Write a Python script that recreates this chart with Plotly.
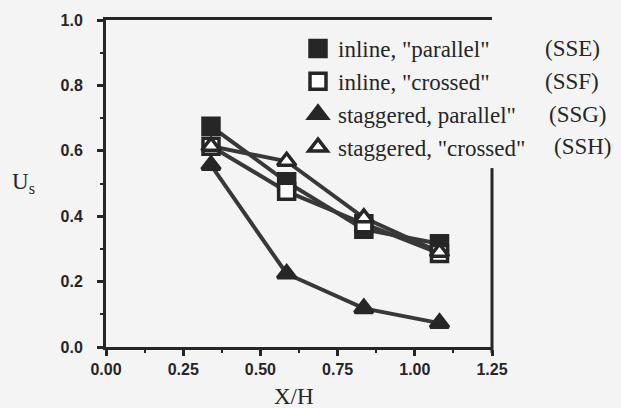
import plotly.graph_objects as go

# ---- data ----
x_over_h = [0.34, 0.585, 0.835, 1.08]
us_sse = [0.675, 0.505, 0.36, 0.316]   # inline, "parallel"
us_ssf = [0.614, 0.476, 0.377, 0.286]  # inline, "crossed"
us_ssg = [0.556, 0.224, 0.118, 0.073]  # staggered, parallel"
us_ssh = [0.614, 0.568, 0.395, 0.29]   # staggered, "crossed"

series_names = ['inline, "parallel"', 'inline, "crossed"',
                'staggered, parallel"', 'staggered, "crossed"']
series_codes = ["(SSE)", "(SSF)", "(SSG)", "(SSH)"]

x_tick_vals = [0.0, 0.25, 0.5, 0.75, 1.0, 1.25]
x_tick_text = ["0.00", "0.25", "0.50", "0.75", "1.00", "1.25"]
y_tick_vals = [0.0, 0.2, 0.4, 0.6, 0.8, 1.0]
y_tick_text = ["0.0", "0.2", "0.4", "0.6", "0.8", "1.0"]

x_title = "X/H"
y_title = "U<sub>s</sub>"

# ---- style ----
BG = "#f4f4f4"
INK = "#262626"
LINE = "#383838"
SERIF = "Liberation Serif"
SANS = "Liberation Sans"

series = [us_sse, us_ssf, us_ssg, us_ssh]
symbols = ["square", "square", "triangle-up", "triangle-up"]
fills = [INK, "white", INK, "white"]
sizes = [16, 16, 16, 16]

fig = go.Figure()

# connecting lines
for vals in series:
    fig.add_trace(go.Scatter(x=x_over_h, y=vals, mode="lines",
                             line=dict(color=LINE, width=4),
                             showlegend=False, hoverinfo="skip"))

# markers (with legend entries)
for vals, name, sym, fc, sz in zip(series, series_names, symbols, fills, sizes):
    fig.add_trace(go.Scatter(x=x_over_h, y=vals, mode="markers", name=name,
                             marker=dict(symbol=sym, size=sz, color=fc,
                                         line=dict(color=INK, width=3.5))))

# series codes next to legend
W, H = 621, 408
L, R, T, B = 106, 129, 18, 61
pw, ph = W - L - R, H - T - B
def px_to_paper_x(px):
    return (px - L) / pw
def px_to_paper_y(py):
    return (H - B - py) / ph

code_x_px = [543, 543, 547, 552]
code_y_px = [47, 80, 113, 145]
for code, cx, cy in zip(series_codes, code_x_px, code_y_px):
    fig.add_annotation(x=px_to_paper_x(cx), y=px_to_paper_y(cy), xref="paper", yref="paper",
                       text=code, showarrow=False, xanchor="left", yanchor="middle",
                       font=dict(family=SERIF, size=23, color=INK))

# axis titles
fig.add_annotation(x=px_to_paper_x(294), y=px_to_paper_y(397), xref="paper", yref="paper",
                   text=x_title, showarrow=False, xanchor="center", yanchor="middle",
                   font=dict(family=SERIF, size=23, color=INK))
fig.add_annotation(x=px_to_paper_x(23), y=px_to_paper_y(182), xref="paper", yref="paper",
                   text=y_title, showarrow=False, xanchor="center", yanchor="middle",
                   font=dict(family=SERIF, size=23, color=INK))

# partial right-hand frame line
fig.add_shape(type="line", xref="paper", yref="paper",
              x0=1, x1=1, y0=px_to_paper_y(353), y1=px_to_paper_y(167),
              line=dict(color=INK, width=3))

fig.update_layout(
    width=W, height=H,
    margin=dict(l=L, r=R, t=T, b=B, pad=0),
    paper_bgcolor=BG, plot_bgcolor=BG,
    showlegend=True,
    legend=dict(x=px_to_paper_x(298), y=px_to_paper_y(25), xanchor="left", yanchor="top",
                bgcolor="rgba(0,0,0,0)", borderwidth=0,
                font=dict(family=SERIF, size=23, color=INK),
                tracegroupgap=0, itemwidth=30),
    xaxis=dict(range=[0, 1.25], tickvals=x_tick_vals, ticktext=x_tick_text,
               showgrid=False, zeroline=False,
               showline=True, linecolor=INK, linewidth=3, mirror=True,
               ticks="outside", ticklen=6, tickwidth=2.5, tickcolor=INK,
               minor=dict(dtick=0.125, ticks="outside", ticklen=3, tickwidth=2, tickcolor=INK),
               tickfont=dict(family=SANS, size=16, color=INK, weight="bold"),
               ticklabelstandoff=0),
    yaxis=dict(range=[0, 1.0], tickvals=y_tick_vals, ticktext=y_tick_text,
               showgrid=False, zeroline=False,
               showline=True, linecolor=INK, linewidth=3,
               ticks="outside", ticklen=6, tickwidth=2.5, tickcolor=INK,
               minor=dict(dtick=0.1, ticks="outside", ticklen=3, tickwidth=2, tickcolor=INK),
               tickfont=dict(family=SANS, size=16, color=INK, weight="bold"),
               ticklabelstandoff=11),
)

fig.write_html("out.html", config={"displayModeBar": False},
               post_script="document.body.style.margin='0';document.body.style.background='%s';" % BG)
